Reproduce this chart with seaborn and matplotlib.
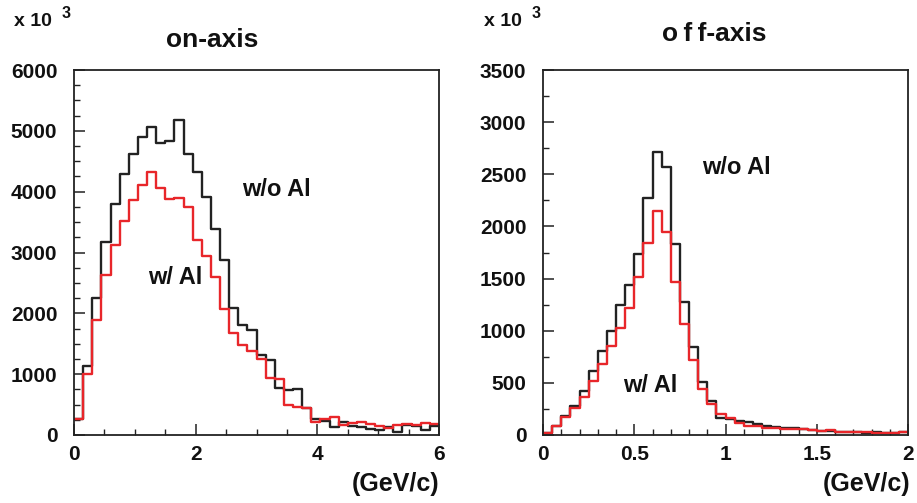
import numpy as np
import pandas as pd
import matplotlib
matplotlib.use("Agg")
import matplotlib.pyplot as plt
import seaborn as sns
from matplotlib.ticker import MultipleLocator, FixedLocator

# ---------------- data (bin contents) ----------------
on_edges_range = (0.0, 6.0)
on_nbins = 40
on_wo_al = [268, 1134, 2258, 3173, 3803, 4296, 4625, 4899, 5063, 4805,
            4833, 5184, 4625, 4323, 3912, 3392, 2871, 2082, 1803, 1721,
            1321, 1240, 765, 735, 760, 450, 255, 236, 130, 220,
            140, 125, 95, 90, 137, 55, 160, 155, 75, 150]
on_w_al = [268, 1008, 1885, 2625, 3118, 3518, 3858, 4104, 4323, 4066,
           3874, 3901, 3748, 3200, 2942, 2597, 2066, 1682, 1474, 1381,
           1255, 930, 925, 490, 460, 450, 215, 270, 300, 170,
           190, 215, 180, 155, 110, 165, 180, 165, 200, 180]

off_edges_range = (0.0, 2.0)
off_nbins = 40
off_wo_al = [16, 89, 179, 275, 425, 617, 802, 1000, 1246, 1441,
             1735, 2269, 2710, 2573, 1831, 1278, 841, 510, 329, 166,
             150, 134, 121, 102, 89, 80, 70, 64, 55, 48,
             42, 40, 32, 28, 26, 22, 28, 18, 20, 25]
off_w_al = [16, 83, 169, 259, 361, 521, 681, 857, 1023, 1214,
            1512, 1838, 2144, 1943, 1464, 1064, 719, 441, 294, 198,
            166, 112, 89, 86, 70, 64, 58, 54, 58, 50,
            42, 45, 33, 28, 27, 26, 22, 18, 22, 25]

on_xticks = [0, 2, 4, 6]
on_yticks = [0, 1000, 2000, 3000, 4000, 5000, 6000]
off_xticks = [0, 0.5, 1, 1.5, 2]
off_xticklabels = ["0", "0.5", "1", "1.5", "2"]
off_yticks = [0, 500, 1000, 1500, 2000, 2500, 3000, 3500]

titles = ["on-axis", "o\u2009f\u2009f-axis"]
labels_wo = "w/o Al"
labels_w = "w/ Al"
unit = "(GeV/c)"

# ---------------- style ----------------
sns.set_theme(style="white")
plt.rcParams['font.family'] = ['Liberation Sans', 'DejaVu Sans']
plt.rcParams['font.weight'] = 'bold'

W, H = 917, 503
fig = plt.figure(figsize=(W / 100, H / 100), dpi=100)

def px_axes(x0, y0, x1, y1):
    return fig.add_axes([x0 / W, 1 - y1 / H, (x1 - x0) / W, (y1 - y0) / H])

axL = px_axes(74, 70, 439, 435)
axR = px_axes(543, 70, 908, 435)

def make_df(vals, rng, nb):
    edges = np.linspace(rng[0], rng[1], nb + 1)
    centers = 0.5 * (edges[:-1] + edges[1:])
    return pd.DataFrame({"p": centers, "w": vals})

def draw(ax, wo, w, rng, nb):
    for vals, col in [(wo, "#222222"), (w, "#e8262a")]:
        df = make_df(vals, rng, nb)
        sns.histplot(data=df, x="p", weights="w", bins=nb, binrange=rng,
                     element="step", fill=False, color=col, linewidth=1.7,
                     ax=ax)

draw(axL, on_wo_al, on_w_al, on_edges_range, on_nbins)
draw(axR, off_wo_al, off_w_al, off_edges_range, off_nbins)

for ax in (axL, axR):
    ax.set_xlabel("")
    ax.set_ylabel("")
    for s in ax.spines.values():
        s.set_visible(True)
        s.set_color("#222222")
        s.set_linewidth(1.3)
    ax.tick_params(which="both", direction="in", color="#222222",
                   top=False, right=False, left=True, bottom=True,
                   labelsize=15, labelcolor="#111111")
    ax.tick_params(which="major", length=8, width=1.1)
    ax.tick_params(which="minor", length=4, width=1.0)
    ax.tick_params(axis="y", pad=12)
    ax.tick_params(axis="x", pad=7)

axL.set_xlim(*on_edges_range)
axL.set_ylim(0, 6000)
axL.xaxis.set_major_locator(FixedLocator(on_xticks))
axL.xaxis.set_minor_locator(MultipleLocator(0.5))
axL.yaxis.set_major_locator(FixedLocator(on_yticks))
axL.yaxis.set_minor_locator(MultipleLocator(250))
axL.set_xticklabels([str(t) for t in on_xticks], fontweight="bold")
axL.set_yticklabels([str(t) for t in on_yticks], fontweight="bold")

axR.set_xlim(*off_edges_range)
axR.set_ylim(0, 3500)
axR.xaxis.set_major_locator(FixedLocator(off_xticks))
axR.xaxis.set_minor_locator(MultipleLocator(0.1))
axR.yaxis.set_major_locator(FixedLocator(off_yticks))
axR.yaxis.set_minor_locator(MultipleLocator(250))
axR.set_xticklabels(off_xticklabels, fontweight="bold")
axR.set_yticklabels([str(t) for t in off_yticks], fontweight="bold")

def ftext(x, y, s, size, ha="center", va="center"):
    fig.text(x / W, 1 - y / H, s, fontsize=size, fontweight="bold",
             ha=ha, va=va, color="#111111")

# exponent labels
ftext(14, 22, "x 10", 14, ha="left")
ftext(62, 14, "3", 11.5, ha="left")
ftext(484, 22, "x 10", 14, ha="left")
ftext(532, 14, "3", 11.5, ha="left")

# titles
ftext(212, 40, titles[0], 19)
ftext(714, 34, titles[1], 19)

# units
ftext(439, 484, unit, 18, ha="right")
ftext(910, 484, unit, 18, ha="right")

# annotations
ftext(276, 190, labels_wo, 17)
ftext(175, 277, labels_w, 17)
ftext(736, 168, labels_wo, 17)
ftext(650, 385, labels_w, 17)

fig.savefig("out.png", dpi=100)
